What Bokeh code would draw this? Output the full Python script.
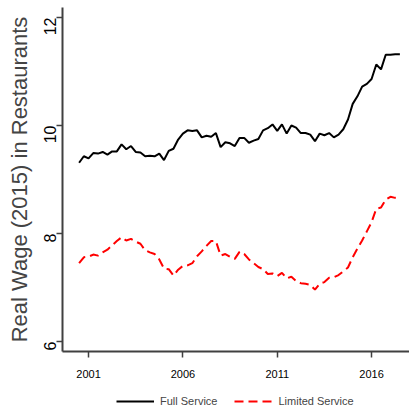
import math
from bokeh.plotting import figure
from bokeh.models import Range1d, FixedTicker, Legend, LegendItem
from bokeh.layouts import column
from bokeh.embed import file_html
from bokeh.resources import INLINE

# Quarterly data, 2000Q3 .. 2017Q3
start_year = 2000.5
full_service = [
    9.31, 9.43, 9.39, 9.49, 9.48, 9.51, 9.46, 9.52, 9.52, 9.65, 9.56, 9.62,
    9.51, 9.50, 9.43, 9.44, 9.43, 9.48, 9.36, 9.53, 9.57, 9.74, 9.85, 9.91,
    9.90, 9.91, 9.78, 9.81, 9.79, 9.86, 9.60,
    9.69, 9.67, 9.62, 9.77, 9.77, 9.68, 9.72, 9.75, 9.91, 9.95, 10.02, 9.90,
    10.02, 9.85, 10.00, 9.96, 9.86, 9.86, 9.83, 9.71, 9.85, 9.82, 9.86, 9.78,
    9.83, 9.93, 10.11, 10.40, 10.54, 10.72, 10.77, 10.86, 11.13, 11.04, 11.31,
    11.31, 11.32, 11.32,
]
limited_service = [
    7.45, 7.56, 7.57, 7.61, 7.59, 7.65, 7.70, 7.78, 7.86, 7.93, 7.87, 7.90,
    7.85, 7.81, 7.69, 7.65, 7.62, 7.52, 7.35, 7.34, 7.22, 7.33, 7.40, 7.41,
    7.45, 7.58, 7.67, 7.77, 7.86, 7.86, 7.59, 7.62, 7.57, 7.53, 7.66, 7.62,
    7.52, 7.45, 7.38, 7.34, 7.25, 7.26, 7.21, 7.27, 7.17, 7.20, 7.12, 7.08,
    7.07, 7.05, 6.96, 7.07, 7.10, 7.18, 7.19, 7.23, 7.30, 7.37, 7.56, 7.72,
    7.87, 8.04, 8.21, 8.46, 8.48, 8.63, 8.68, 8.66, 8.66,
]
quarters = [start_year + 0.25 * i for i in range(len(full_service))]
x_ticks = [2001, 2006, 2011, 2016]
y_ticks = [6, 8, 10, 12]
y_title = "Real Wage (2015) in Restaurants"
labels = ["Full Service", "Limited Service"]

x_rng = Range1d(1999.62, 2018.01)
y_rng = Range1d(5.815, 12.185)

p = figure(width=409, height=383, output_backend="svg", toolbar_location=None,
           x_range=x_rng, y_range=y_rng,
           min_border_left=62, min_border_right=0, min_border_top=7,
           min_border_bottom=32)
p.outline_line_color = None
p.xgrid.grid_line_color = None
p.ygrid.grid_line_color = None

axis_col = "#404040"
for ax in (p.xaxis[0], p.yaxis[0]):
    ax.axis_line_color = axis_col
    ax.axis_line_width = 2
    ax.major_tick_line_color = axis_col
    ax.major_tick_line_width = 1.5
    ax.major_tick_out = 6
    ax.major_tick_in = 0
    ax.minor_tick_line_color = None
    ax.major_label_text_color = "black"

p.xaxis.ticker = FixedTicker(ticks=x_ticks)
p.xaxis.major_label_text_font = "Liberation Sans"
p.xaxis.major_label_text_font_size = "11px"
p.xaxis.major_label_standoff = 12

p.yaxis.ticker = FixedTicker(ticks=y_ticks)
p.yaxis.major_label_orientation = math.pi / 2
p.yaxis.major_label_text_font = "Liberation Sans"
p.yaxis.major_label_text_font_size = "16px"
p.yaxis.major_label_standoff = 6
p.yaxis.axis_label = y_title
p.yaxis.axis_label_text_font = "Liberation Sans"
p.yaxis.axis_label_text_font_size = "22px"
p.yaxis.axis_label_text_font_style = "normal"
p.yaxis.axis_label_standoff = 4

p.line(quarters, full_service, line_color="black", line_width=2)
p.line(quarters, limited_service, line_color="red", line_width=2,
       line_dash="9 5")

# legend strip below the chart
pl = figure(width=409, height=25, output_backend="svg", toolbar_location=None,
            x_range=x_rng, y_range=y_rng, x_axis_type=None, y_axis_type=None,
            min_border_left=0, min_border_right=0, min_border_top=0,
            min_border_bottom=0)
pl.outline_line_color = None
pl.xgrid.grid_line_color = None
pl.ygrid.grid_line_color = None
l1 = pl.line(quarters, full_service, line_color="black", line_width=2,
             visible=False)
l2 = pl.line(quarters, limited_service, line_color="red", line_width=2,
             line_dash="9 5", visible=False)
legend = Legend(items=[LegendItem(label=labels[0], renderers=[l1]),
                       LegendItem(label=labels[1], renderers=[l2])],
                orientation="horizontal", location=(54, 0),
                background_fill_alpha=0, border_line_color=None,
                glyph_width=38, glyph_height=14, label_height=14,
                label_standoff=6, spacing=17, padding=0, margin=0,
                label_text_font="Liberation Sans",
                label_text_font_size="11px")
pl.add_layout(legend, "center")

layout = column(p, pl, spacing=0)
open("out.html", "w").write(file_html(layout, INLINE))
